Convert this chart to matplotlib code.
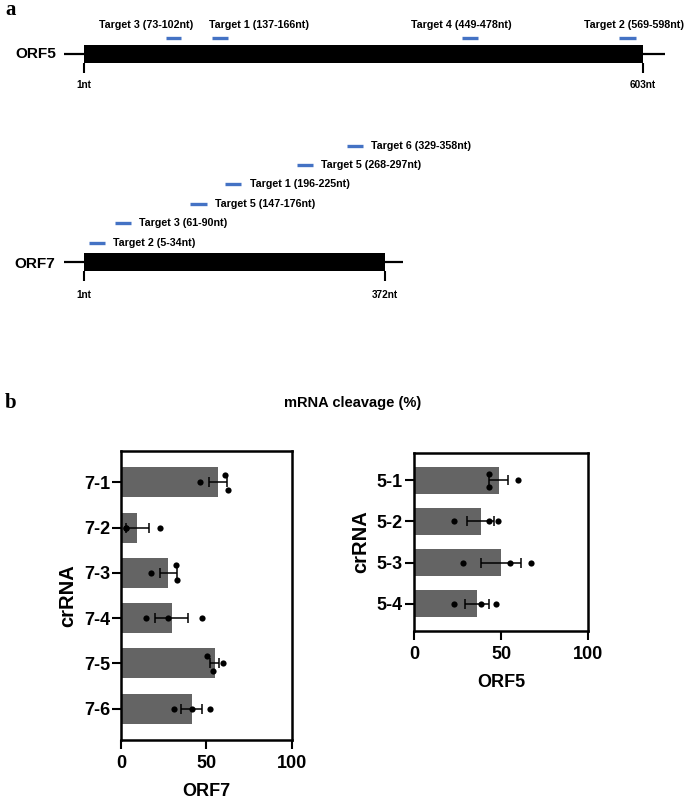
import numpy as np
import matplotlib
matplotlib.use('Agg')
import matplotlib.pyplot as plt
from matplotlib import font_manager as fm

# ---------------- data ----------------
orf5_length = 603
orf7_length = 372

orf5_target_labels = ['Target 3 (73-102nt)', 'Target 1 (137-166nt)',
                      'Target 4 (449-478nt)', 'Target 2 (569-598nt)']
# positions of the blue marks as drawn in the schematic (nt scale)
orf5_target_start = [89, 139, 408, 577]
orf5_target_end = [106, 156, 425, 595]

orf7_target_labels = ['Target 2 (5-34nt)', 'Target 3 (61-90nt)', 'Target 5 (147-176nt)',
                      'Target 1 (196-225nt)', 'Target 5 (268-297nt)', 'Target 6 (329-358nt)']
orf7_target_start = [7, 39, 132, 175, 263, 325]
orf7_target_end = [27, 59, 152, 195, 283, 345]

orf7_crrna = ['7-1', '7-2', '7-3', '7-4', '7-5', '7-6']
orf7_reps = [[46.4, 61.0, 63.0],
             [2.7, 2.9, 23.0],
             [17.7, 32.2, 33.0],
             [14.6, 27.3, 47.6],
             [50.5, 54.2, 60.0],
             [30.8, 41.5, 52.0]]

orf5_crrna = ['5-1', '5-2', '5-3', '5-4']
orf5_reps = [[43.3, 43.3, 59.6],
             [23.2, 43.3, 48.2],
             [28.0, 54.9, 67.1],
             [23.2, 38.3, 47.2]]

x_ticks = [0, 50, 100]

# ---------------- style / layout ----------------
orf7_jitter = [[0, -0.16, 0.17], [0, 0, 0], [0, -0.18, 0.15],
               [0, 0, 0], [-0.16, 0.17, 0], [0, 0, 0]]
orf5_jitter = [[-0.16, 0.16, 0], [0, 0, 0], [0, 0, 0], [0, 0, 0]]


def pick(*names):
    for n in names:
        try:
            fm.findfont(fm.FontProperties(family=n), fallback_to_default=False)
            return n
        except Exception:
            continue
    return 'DejaVu Sans'


SANS = pick('Liberation Sans', 'Arial', 'DejaVu Sans')
NARROW = pick('Liberation Sans Narrow', 'Arial Narrow', SANS)
SERIF = pick('Liberation Serif', 'Times New Roman', 'DejaVu Serif')
narrow_scale = 1.0 if NARROW != SANS else 0.85

BLUE = '#4472C4'
BAR_GRAY = '#646464'

W, H = 685, 800
fig = plt.figure(figsize=(W / 100, H / 100), dpi=100)


def box(l, t, r, b):
    return [l / W, 1 - b / H, (r - l) / W, (b - t) / H]


def schematic(px_left, px_right, px_top, px_bottom, px_start, px_end, length,
              starts, ends, labels, levels, label_mode, tick_pad):
    ax = fig.add_axes(box(px_left, px_top, px_right, px_bottom))
    ppn = (px_end - px_start) / (length - 1)
    ax.set_xlim(1 - (px_start - px_left) / ppn, length + (px_right - px_end) / ppn)
    unit = 18.0
    ax.set_ylim(-0.5, -0.5 + (px_bottom - px_top) / unit)
    ax.axhline(0, color='black', lw=1.6, zorder=1)
    ax.barh(0, length - 1, left=1, height=1, color='black', zorder=2)
    for s, e, lab, lv, mode in zip(starts, ends, labels, levels, label_mode):
        ax.hlines(lv, s, e, color=BLUE, lw=2.4, zorder=3)
        if mode[0] == 'right':
            ax.annotate(lab, xy=(e, lv), xytext=(6, 0), textcoords='offset points',
                        ha='left', va='center', fontsize=9 * narrow_scale,
                        fontweight='bold', family=NARROW)
        else:
            ax.annotate(lab, xy=((s + e) / 2, mode[1]), xytext=(mode[2], 0),
                        textcoords='offset points', ha='center', va='center',
                        fontsize=9 * narrow_scale, fontweight='bold', family=NARROW)
    ax.set_xticks([1, length])
    ax.set_xticklabels(['1nt', f'{length}nt'])
    ax.tick_params(axis='x', direction='out', length=7.5, width=1.5, pad=tick_pad,
                   labelsize=8.5 * narrow_scale)
    for t in ax.get_xticklabels():
        t.set_fontweight('bold')
        t.set_family(NARROW)
    ax.set_yticks([])
    for sp in ax.spines.values():
        sp.set_visible(False)
    ax.patch.set_alpha(0)
    return ax


# ORF5 schematic
orf5_modes = [('above', 1.61, -20), ('above', 1.61, 28), ('above', 1.61, -6), ('above', 1.61, 5)]
schematic(64, 665, 14, 63, 84, 643, orf5_length, orf5_target_start, orf5_target_end,
          orf5_target_labels, [0.87] * 4, orf5_modes, 4.5)
fig.text(15 / W, 1 - 54 / H, 'ORF5', ha='left', va='center', fontsize=13 * narrow_scale,
         fontweight='bold', family=NARROW)

# ORF7 schematic
orf7_levels = [1.07 + 1.08 * i for i in range(len(orf7_target_labels))]
schematic(64, 403, 138, 271, 84, 385, orf7_length, orf7_target_start, orf7_target_end,
          orf7_target_labels, orf7_levels, [('right',)] * 6, 6.5)
fig.text(14 / W, 1 - 264 / H, 'ORF7', ha='left', va='center', fontsize=13 * narrow_scale,
         fontweight='bold', family=NARROW)

fig.text(5 / W, 1 - 10 / H, 'a', ha='left', va='center', fontsize=15,
         fontweight='bold', family=SERIF)
fig.text(5 / W, 1 - 403 / H, 'b', ha='left', va='center', fontsize=15,
         fontweight='bold', family=SERIF)
fig.text(353 / W, 1 - 403 / H, 'mRNA cleavage (%)', ha='center', va='center',
         fontsize=10.5, fontweight='bold', family=SANS)


def bar_panel(rect, labels, reps, jitter, xlabel, pad_y):
    ax = fig.add_axes(rect)
    y = np.arange(len(labels))
    means = np.array([np.mean(r) for r in reps])
    sems = np.array([np.std(r, ddof=1) / np.sqrt(len(r)) for r in reps])
    ax.barh(y, means, height=0.66, color=BAR_GRAY, zorder=1)
    ax.errorbar(means, y, xerr=sems, fmt='none', ecolor='black', elinewidth=1.1,
                capsize=3.6, capthick=1.1, zorder=3)
    for yi, r, j in zip(y, reps, jitter):
        ax.scatter(r, yi + np.array(j), s=20, color='black', zorder=4, linewidths=0)
    ax.set_xlim(0, 100)
    ax.set_ylim(len(labels) - 1 + pad_y, -pad_y)
    ax.set_xticks(x_ticks)
    ax.set_xticklabels([str(v) for v in x_ticks])
    ax.set_yticks(y)
    ax.set_yticklabels(labels)
    ax.tick_params(axis='x', direction='out', length=6.5, width=1.5, labelsize=13, pad=4)
    ax.tick_params(axis='y', direction='out', length=6.5, width=1.5, labelsize=13, pad=1.5)
    for t in ax.get_xticklabels() + ax.get_yticklabels():
        t.set_fontweight('bold')
        t.set_family(SANS)
    for sp in ax.spines.values():
        sp.set_linewidth(1.8)
    ax.set_xlabel(xlabel, fontsize=13, fontweight='bold', family=SANS, labelpad=8)
    ax.set_ylabel('crRNA', fontsize=14.5, fontweight='bold', family=SANS, labelpad=5)
    return ax


bar_panel(box(121, 451, 291.5, 740), orf7_crrna, orf7_reps, orf7_jitter, 'ORF7', 0.69)
bar_panel(box(414, 453, 588, 631), orf5_crrna, orf5_reps, orf5_jitter, 'ORF5', 0.67)

fig.savefig('out.png', dpi=100)
